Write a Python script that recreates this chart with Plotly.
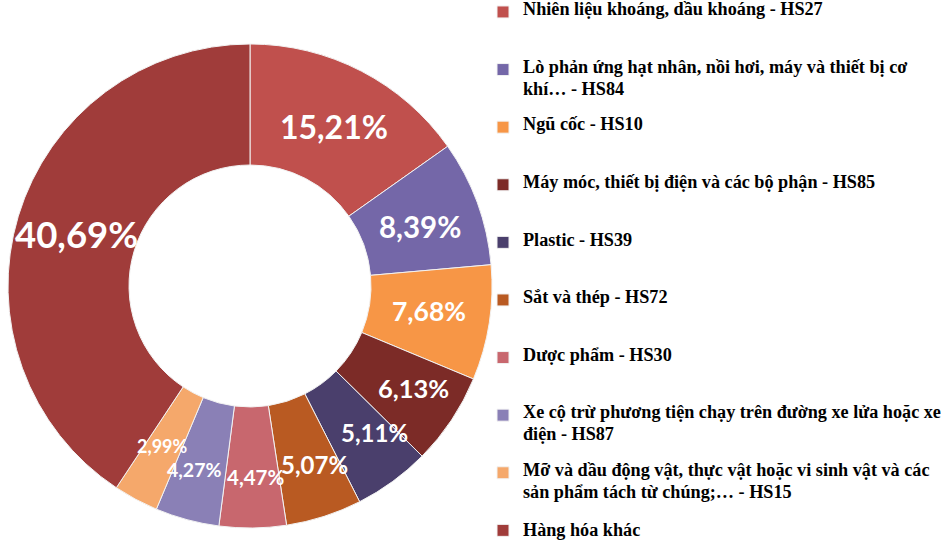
import math
import plotly.graph_objects as go

# ---- data ----
categories = [
    "Nhiên liệu khoáng, dầu khoáng - HS27",
    "Lò phản ứng hạt nhân, nồi hơi, máy và thiết bị cơ<br>khí… - HS84",
    "Ngũ cốc - HS10",
    "Máy móc, thiết bị điện và các bộ phận - HS85",
    "Plastic - HS39",
    "Sắt và thép - HS72",
    "Dược phẩm - HS30",
    "Xe cộ trừ phương tiện chạy trên đường xe lửa hoặc xe<br>điện - HS87",
    "Mỡ và dầu động vật, thực vật hoặc vi sinh vật và các<br>sản phẩm tách từ chúng;… - HS15",
    "Hàng hóa khác",
]
shares = [15.21, 8.39, 7.68, 6.13, 5.11, 5.07, 4.47, 4.27, 2.99, 40.69]

# ---- styles ----
colors = ["#C0504D", "#7467A8", "#F79646", "#7C2B27", "#4A3F6C",
          "#B95A22", "#C8676E", "#8A80B6", "#F5A86B", "#A03C3A"]
label_sizes = [32, 29.5, 26.5, 25.5, 24, 24, 20.5, 19.5, 18, 36.5]
# label nudges in px (x right, y down)
label_nudge = [(1, 2), (0, 3), (0, -3), (12, 1), (17, 0), (9, 6), (3, 10), (-9, 8), (-2, 0), (0, 0)]

W, H = 946, 543
dom_x = [0.00846, 0.5201]
dom_y = [0.0276, 0.919]
hole = 0.5

LEG_BASE = 8.4
LEG_SIZE = 18.2
LEG_FAMILY = "Liberation Serif, Times New Roman, Tinos, serif"


def legend_text(lbl, last):
    parts = lbl.split("<br>")
    lines = []
    for i, p in enumerate(parts):
        if i > 0:
            lines.append(" ")
        lines.append(
            f'<span style="font-size:{LEG_SIZE}px;font-family:{LEG_FAMILY}"><b>{p}</b></span>'
        )
    if not last:
        while len(lines) < 5:
            lines.append(" ")
    return "<br>".join(lines)


leg_labels = [legend_text(c, i == len(categories) - 1) for i, c in enumerate(categories)]

fig = go.Figure()
fig.add_trace(go.Pie(
    labels=leg_labels,
    values=shares,
    sort=False,
    direction="clockwise",
    rotation=0,
    hole=hole,
    marker=dict(colors=colors, line=dict(color="#F2F2F2", width=1)),
    textinfo="none",
    hoverinfo="label+percent",
    domain=dict(x=dom_x, y=dom_y),
))

# labels at ring middle, derived from the values
cx = (dom_x[0] + dom_x[1]) / 2 * W
cy = (1 - (dom_y[0] + dom_y[1]) / 2) * H
R = min((dom_x[1] - dom_x[0]) * W, (dom_y[1] - dom_y[0]) * H) / 2
rmid = R * (1 + hole) / 2
total = sum(shares)
cum = 0.0
for v, fs, (nx, ny) in zip(shares, label_sizes, label_nudge):
    mid = (cum + v / 2) / total * 2 * math.pi
    cum += v
    px = cx + rmid * math.sin(mid)
    py = cy - rmid * math.cos(mid)
    fig.add_annotation(
        x=px / W, y=1 - py / H, xref="paper", yref="paper",
        text=f"{v:.2f}%".replace(".", ","),
        showarrow=False, xanchor="center", yanchor="middle",
        xshift=nx, yshift=-ny,
        font=dict(family="Lato", size=fs, color="white", weight="bold"),
    )

fig.update_layout(
    width=W, height=H,
    margin=dict(l=0, r=0, t=0, b=0),
    paper_bgcolor="white",
    plot_bgcolor="white",
    showlegend=True,
    legend=dict(
        x=483 / W, xanchor="left",
        y=1.0, yanchor="top",
        font=dict(family=LEG_FAMILY, size=LEG_BASE, color="black"),
        valign="top",
        bgcolor="rgba(0,0,0,0)",
        maxheight=600,
    ),
)

fig.write_html("out.html")
